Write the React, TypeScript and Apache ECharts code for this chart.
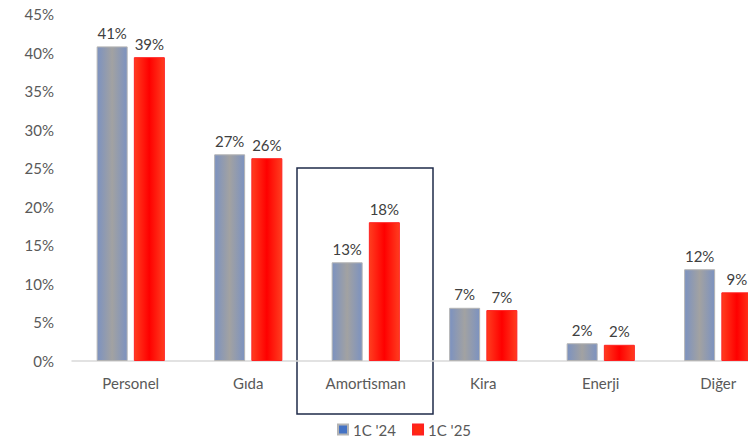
import React, { useEffect, useRef } from "react";
import * as echarts from "echarts";

const categories = ["Personel", "Gıda", "Amortisman", "Kira", "Enerji", "Diğer"];
const series24 = [40.8, 26.8, 12.8, 6.9, 2.3, 11.9];
const series25 = [39.4, 26.3, 18.0, 6.6, 2.1, 8.9];
const seriesNames = ["1Ç '24", "1Ç '25"];
const yTicks = [0, 5, 10, 15, 20, 25, 30, 35, 40, 45];

const FONT = "Lato, 'Open Sans', sans-serif";

export default function App() {
  const ref = useRef<HTMLDivElement>(null);
  useEffect(() => {
    if (!ref.current) return;
    const chart = echarts.init(ref.current, null, { renderer: "svg" });
    const blueGrad = new echarts.graphic.LinearGradient(0, 0, 1, 0, [
      { offset: 0, color: "#7c92c0" },
      { offset: 0.5, color: "#a2a2a2" },
      { offset: 1, color: "#7c92c0" },
    ]);
    const redGrad = new echarts.graphic.LinearGradient(0, 0, 1, 0, [
      { offset: 0, color: "#ff3d1f" },
      { offset: 0.5, color: "#ff0000" },
      { offset: 1, color: "#ff3d1f" },
    ]);
    const label = {
      show: true,
      position: "top",
      distance: 6,
      color: "#404040",
      fontSize: 15,
      fontFamily: FONT,
      formatter: (p: any) => Math.round(p.value) + "%",
    };
    chart.setOption({
      animation: false,
      grid: { left: 72, top: 14, width: 705, height: 347, containLabel: false },
      legend: {
        bottom: 2,
        left: 332,
        itemWidth: 10,
        itemHeight: 10,
        itemGap: 16,
        icon: "rect",
        textStyle: { color: "#595959", fontSize: 15, fontFamily: FONT },
        data: [
          { name: seriesNames[0], itemStyle: { color: "#4472c4" } },
          { name: seriesNames[1], itemStyle: { color: "#ff2a10" } },
        ],
      },
      xAxis: {
        type: "category",
        data: categories,
        axisLine: { lineStyle: { color: "#d9d9d9", width: 1.5 } },
        axisTick: { show: false },
        axisLabel: { color: "#595959", fontSize: 15, fontFamily: FONT, margin: 14 },
      },
      yAxis: {
        type: "value",
        min: yTicks[0],
        max: yTicks[yTicks.length - 1],
        interval: 5,
        splitLine: { show: false },
        axisLine: { show: false },
        axisTick: { show: false },
        axisLabel: {
          color: "#595959",
          fontSize: 15,
          fontFamily: FONT,
          margin: 18,
          formatter: (v: number) => v + "%",
        },
      },
      series: [
        {
          name: seriesNames[0],
          type: "bar",
          data: series24,
          barWidth: 31,
          barGap: "20%",
          itemStyle: { color: blueGrad, borderColor: "#b4b4b4", borderWidth: 1 },
          label,
        },
        {
          name: seriesNames[1],
          type: "bar",
          data: series25,
          barWidth: 31,
          itemStyle: { color: redGrad, borderColor: "#ff2020", borderWidth: 1 },
          label,
        },
      ],
      graphic: [
        {
          type: "rect",
          shape: { x: 297, y: 168, width: 136, height: 246 },
          style: { fill: "none", stroke: "#1f2b4a", lineWidth: 1.5 },
        },
      ],
    });
    return () => chart.dispose();
  }, []);
  return (
    <div style={{ width: 756, height: 444, margin: -8, overflow: "hidden" }}>
      <div ref={ref} style={{ width: 790, height: 444 }} />
    </div>
  );
}
